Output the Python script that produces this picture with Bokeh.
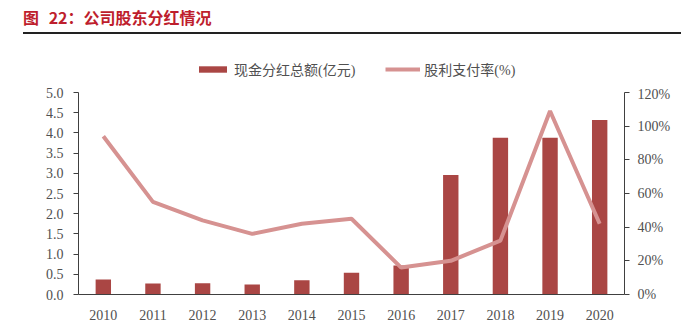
from bokeh.plotting import figure
from bokeh.models import (FactorRange, Range1d, LinearAxis, Legend, LegendItem,
                          PrintfTickFormatter, Div, SingleIntervalTicker, ColumnDataSource)
from bokeh.layouts import column
from bokeh.embed import file_html
from bokeh.resources import INLINE

years = ["2010", "2011", "2012", "2013", "2014", "2015", "2016", "2017", "2018", "2019", "2020"]
dividend = [0.37, 0.27, 0.28, 0.25, 0.35, 0.54, 0.72, 2.96, 3.88, 3.88, 4.32]
payout = [94, 55, 44, 36, 42, 45, 16, 20, 32, 109, 42]

title_text = "图 22：公司股东分红情况"
bar_name = "现金分红总额(亿元)"
line_name = "股利支付率(%)"

bar_color = "#AA4644"
line_color = "#D69291"
axis_color = "#404040"
label_color = "#505050"
tick_font = "Liberation Serif"

src = ColumnDataSource(dict(year=years, dividend=dividend, payout=payout))

# ---- main chart ----
p = figure(width=681, height=241, x_range=FactorRange(*years, range_padding=0),
           y_range=Range1d(0, 5), output_backend="svg", toolbar_location=None,
           min_border_left=78, min_border_right=57, min_border_top=6, min_border_bottom=33)
p.extra_y_ranges = {"pct": Range1d(0, 120)}
p.outline_line_color = None
p.xgrid.grid_line_color = None
p.ygrid.grid_line_color = None

bars = p.vbar(x="year", top="dividend", width=0.31, source=src,
              fill_color=bar_color, line_color=None)
line = p.line(x="year", y="payout", source=src, y_range_name="pct",
              line_color=line_color, line_width=4)

ya = p.yaxis[0]
ya.ticker = SingleIntervalTicker(interval=0.5)
ya.formatter = PrintfTickFormatter(format="%.1f")
ya.minor_tick_line_color = None
ya.major_tick_in = 0
ya.major_tick_out = 5
ya.axis_line_color = axis_color
ya.major_tick_line_color = axis_color
ya.major_label_text_font = tick_font
ya.major_label_text_font_size = "14px"
ya.major_label_text_color = label_color
ya.major_label_standoff = 10

ra = LinearAxis(y_range_name="pct", ticker=SingleIntervalTicker(interval=20),
                formatter=PrintfTickFormatter(format="%d%%"))
ra.minor_tick_line_color = None
ra.major_tick_in = 0
ra.major_tick_out = 5
ra.axis_line_color = axis_color
ra.major_tick_line_color = axis_color
ra.major_label_text_font = tick_font
ra.major_label_text_font_size = "14px"
ra.major_label_text_color = label_color
ra.major_label_standoff = 8
p.add_layout(ra, "right")

xa = p.xaxis[0]
xa.major_tick_line_color = None
xa.minor_tick_line_color = None
xa.axis_line_color = axis_color
xa.major_label_text_font = tick_font
xa.major_label_text_font_size = "14px"
xa.major_label_text_color = label_color
xa.major_label_standoff = 9

# ---- legend strip ----
lg = figure(width=681, height=50, x_range=Range1d(0, 1), y_range=Range1d(0, 1),
            output_backend="svg", toolbar_location=None,
            min_border_left=0, min_border_right=0, min_border_top=0, min_border_bottom=0)
lg.axis.visible = False
lg.grid.grid_line_color = None
lg.outline_line_color = None
nan = float("nan")
key_src = ColumnDataSource(dict(x=[nan], y=[nan], top=[nan]))
bar_key = lg.vbar(x="x", top="top", width=0.1, source=key_src, fill_color=bar_color, line_color=None)
line_key = lg.line(x="x", y="y", source=key_src, line_color=line_color, line_width=4)
legend = Legend(items=[LegendItem(label=bar_name, renderers=[bar_key]),
                       LegendItem(label=line_name, renderers=[line_key])],
                orientation="horizontal", location=(117, 7),
                glyph_width=35, glyph_height=8, label_text_font_size="14px",
                label_text_font="Liberation Serif, Noto Sans CJK SC",
                label_text_color=label_color, spacing=30, padding=0, margin=0,
                border_line_color=None, background_fill_alpha=0, label_standoff=4)
lg.add_layout(legend, "center")

div = Div(text=('<div style="width:658px;margin-left:23px;border-bottom:2px solid #222;'
                'height:34px;box-sizing:border-box;font-family:\'Noto Sans CJK SC\';'
                'font-weight:bold;font-size:16px;color:#BE1E2D;line-height:34px;word-spacing:6px;">'
                + title_text + '</div>'), width=681, height=36, margin=0)

layout = column(div, lg, p, spacing=0)
open("out.html", "w").write(file_html(layout, INLINE))
